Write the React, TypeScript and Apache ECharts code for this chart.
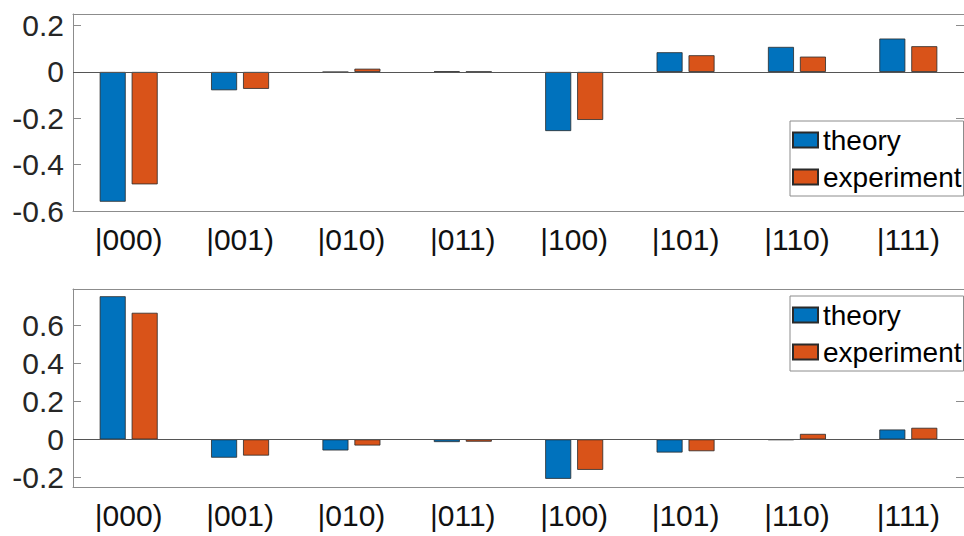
import React, { useEffect, useRef } from "react";
import * as echarts from "echarts";

const categories = ["|000)", "|001)", "|010)", "|011)", "|100)", "|101)", "|110)", "|111)"];
const topTheory = [-0.56, -0.079, -0.001, 0.002, -0.255, 0.085, 0.108, 0.144];
const topExperiment = [-0.485, -0.073, 0.014, 0.001, -0.207, 0.072, 0.066, 0.111];
const bottomTheory = [0.752, -0.096, -0.058, -0.014, -0.207, -0.069, -0.003, 0.052];
const bottomExperiment = [0.665, -0.085, -0.032, -0.012, -0.16, -0.062, 0.029, 0.061];
const seriesNames = ["theory", "experiment"];
const colors = ["#0072BD", "#D95319"];

const AXIS_GRAY = "#8c8c8c";
const TEXT = "#262626";

const yFmt = (v: number) => {
  const k = Math.round(v / 0.2);
  if (Math.abs(k * 0.2 - v) > 1e-6) return "";
  return String(Math.round(v * 10) / 10);
};

export default function App() {
  const ref = useRef<HTMLDivElement>(null);
  useEffect(() => {
    document.body.style.margin = "0";
    const chart = echarts.init(ref.current!, null, { renderer: "svg" });
    const grids = [
      { left: 73, top: 14, width: 901, height: 197 },
      { left: 73, top: 289, width: 901, height: 198 },
    ];
    const xAxes: any[] = [];
    const yAxes: any[] = [];
    const ranges = [
      { min: -0.6, max: 0.25, interval: 0.2 },
      { min: -0.25, max: 0.79 },
    ];
    grids.forEach((_, gi) => {
      xAxes.push({
        type: "category",
        gridIndex: gi,
        data: categories,
        position: "bottom",
        axisLine: { onZero: false, lineStyle: { color: AXIS_GRAY, width: 1 } },
        axisTick: { alignWithLabel: true, inside: true, length: 8, lineStyle: { color: AXIS_GRAY } },
        axisLabel: {
          color: "#111",
          fontSize: 30,
          fontFamily: "Liberation Sans Narrow, Liberation Sans, Arial, sans-serif",
          margin: 13,
        },
        splitLine: { show: false },
      });
      xAxes.push({
        type: "category",
        gridIndex: gi,
        data: categories,
        position: "top",
        axisLine: { onZero: false, lineStyle: { color: AXIS_GRAY, width: 1 } },
        axisTick: { alignWithLabel: true, inside: true, length: 8, lineStyle: { color: AXIS_GRAY } },
        axisLabel: { show: false },
        splitLine: { show: false },
      });
      const r: any = ranges[gi];
      const base: any = { type: "value", gridIndex: gi, min: r.min, max: r.max };
      if (r.interval) base.interval = r.interval;
      yAxes.push({
        ...base,
        position: "left",
        axisLine: { show: true, onZero: false, lineStyle: { color: AXIS_GRAY, width: 1 } },
        axisTick: { show: true, inside: true, length: 8, lineStyle: { color: AXIS_GRAY } },
        axisLabel: {
          color: TEXT,
          fontSize: 30,
          fontFamily: "Liberation Sans, Arial, sans-serif",
          margin: 9,
          formatter: yFmt,
        },
        splitLine: { show: false },
      });
      yAxes.push({
        ...base,
        position: "right",
        axisLine: { show: true, onZero: false, lineStyle: { color: AXIS_GRAY, width: 1 } },
        axisTick: { show: true, inside: true, length: 8, lineStyle: { color: AXIS_GRAY } },
        axisLabel: { show: false },
        splitLine: { show: false },
      });
    });

    const dataSets = [
      [topTheory, topExperiment],
      [bottomTheory, bottomExperiment],
    ];
    const series: any[] = [];
    dataSets.forEach((pair, gi) => {
      pair.forEach((vals, si) => {
        series.push({
          type: "bar",
          name: seriesNames[si],
          xAxisIndex: gi * 2,
          yAxisIndex: gi * 2,
          data: vals,
          barWidth: 26,
          barGap: "23%",
          itemStyle: { color: colors[si], borderColor: "#2a2a2a", borderWidth: 0.8 },
          emphasis: { disabled: true },
          markLine:
            si === 0
              ? {
                  silent: true,
                  symbol: "none",
                  label: { show: false },
                  lineStyle: { color: "#555", width: 1, type: "solid" },
                  data: [{ yAxis: 0 }],
                }
              : undefined,
        });
      });
    });

    const legendCommon = {
      orient: "vertical",
      left: 790,
      itemWidth: 25,
      itemHeight: 15,
      itemGap: 9,
      itemTextGap: 3,
      padding: [5, 2, 5, 2],
      borderColor: AXIS_GRAY,
      borderWidth: 1,
      backgroundColor: "#fff",
      selectedMode: false,
      icon: "rect",
      data: seriesNames,
      textStyle: {
        fontSize: 28,
        lineHeight: 28,
        color: "#000",
        fontFamily: "Liberation Sans, Arial, sans-serif",
      },
    };

    chart.setOption({
      animation: false,
      grid: grids,
      xAxis: xAxes,
      yAxis: yAxes,
      legend: [
        { ...legendCommon, top: 121 },
        { ...legendCommon, top: 296 },
      ],
      series,
    });
    return () => chart.dispose();
  }, []);
  return (
    <div
      ref={ref}
      style={{ position: "fixed", left: 0, top: 0, width: 964, height: 536, background: "#fff" }}
    />
  );
}
